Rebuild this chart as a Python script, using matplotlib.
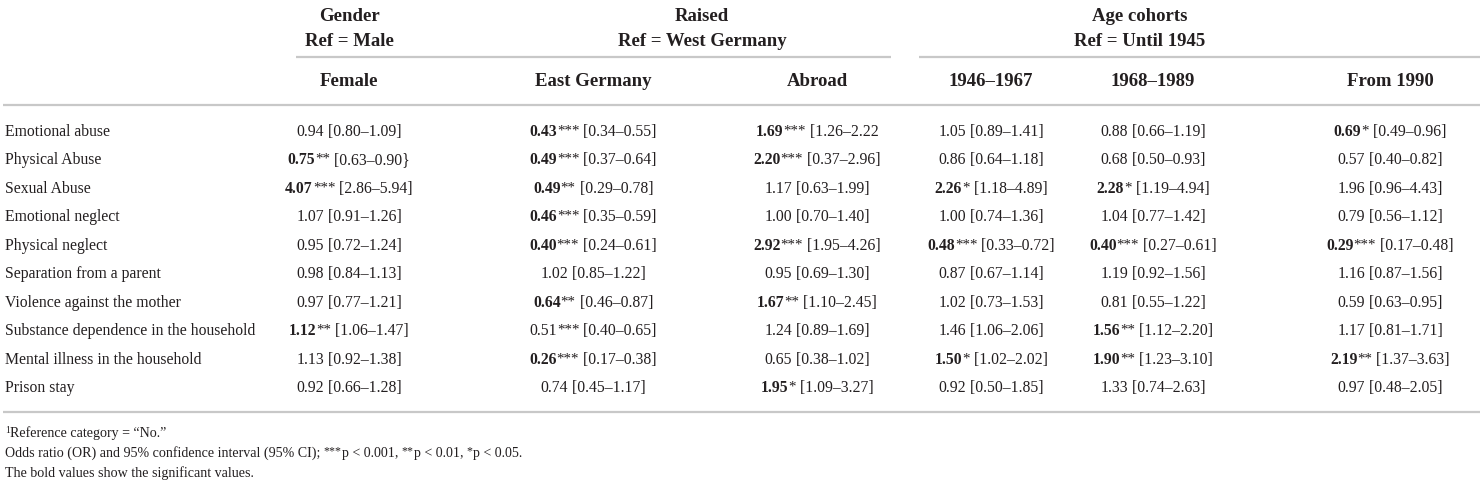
import re
import matplotlib
matplotlib.use("Agg")
import matplotlib.pyplot as plt

plt.rcParams['font.family'] = ['Liberation Serif', 'DejaVu Serif']

rows = ["Emotional abuse", "Physical Abuse", "Sexual Abuse", "Emotional neglect",
        "Physical neglect", "Separation from a parent", "Violence against the mother",
        "Substance dependence in the household", "Mental illness in the household",
        "Prison stay"]

female = ["0.94 [0.80–1.09]", "0.75** [0.63–0.90}", "4.07*** [2.86–5.94]", "1.07 [0.91–1.26]",
          "0.95 [0.72–1.24]", "0.98 [0.84–1.13]", "0.97 [0.77–1.21]", "1.12** [1.06–1.47]",
          "1.13 [0.92–1.38]", "0.92 [0.66–1.28]"]
female_bold = [0, 1, 1, 0, 0, 0, 0, 1, 0, 0]

east = ["0.43*** [0.34–0.55]", "0.49*** [0.37–0.64]", "0.49** [0.29–0.78]", "0.46*** [0.35–0.59]",
        "0.40*** [0.24–0.61]", "1.02 [0.85–1.22]", "0.64** [0.46–0.87]", "0.51*** [0.40–0.65]",
        "0.26*** [0.17–0.38]", "0.74 [0.45–1.17]"]
east_bold = [1, 1, 1, 1, 1, 0, 1, 0, 1, 0]

abroad = ["1.69*** [1.26–2.22", "2.20*** [0.37–2.96]", "1.17 [0.63–1.99]", "1.00 [0.70–1.40]",
          "2.92*** [1.95–4.26]", "0.95 [0.69–1.30]", "1.67** [1.10–2.45]", "1.24 [0.89–1.69]",
          "0.65 [0.38–1.02]", "1.95* [1.09–3.27]"]
abroad_bold = [1, 1, 0, 0, 1, 0, 1, 0, 0, 1]

c1946 = ["1.05 [0.89–1.41]", "0.86 [0.64–1.18]", "2.26* [1.18–4.89]", "1.00 [0.74–1.36]",
         "0.48*** [0.33–0.72]", "0.87 [0.67–1.14]", "1.02 [0.73–1.53]", "1.46 [1.06–2.06]",
         "1.50* [1.02–2.02]", "0.92 [0.50–1.85]"]
c1946_bold = [0, 0, 1, 0, 1, 0, 0, 0, 1, 0]

c1968 = ["0.88 [0.66–1.19]", "0.68 [0.50–0.93]", "2.28* [1.19–4.94]", "1.04 [0.77–1.42]",
         "0.40*** [0.27–0.61]", "1.19 [0.92–1.56]", "0.81 [0.55–1.22]", "1.56** [1.12–2.20]",
         "1.90** [1.23–3.10]", "1.33 [0.74–2.63]"]
c1968_bold = [0, 0, 1, 0, 1, 0, 0, 1, 1, 0]

c1990 = ["0.69* [0.49–0.96]", "0.57 [0.40–0.82]", "1.96 [0.96–4.43]", "0.79 [0.56–1.12]",
         "0.29*** [0.17–0.48]", "1.16 [0.87–1.56]", "0.59 [0.63–0.95]", "1.17 [0.81–1.71]",
         "2.19** [1.37–3.63]", "0.97 [0.48–2.05]"]
c1990_bold = [1, 0, 0, 0, 1, 0, 0, 0, 1, 0]

col_heads = ["Female", "East Germany", "Abroad", "1946–1967", "1968–1989", "From 1990"]
groups = [("Gender", "Ref = Male"), ("Raised", "Ref = West Germany"), ("Age cohorts", "Ref = Until 1945")]
notes = ["Reference category = “No.”",
         "Odds ratio (OR) and 95% confidence interval (95% CI); ***p < 0.001, **p < 0.01, *p < 0.05.",
         "The bold values show the significant values."]

columns = [female, east, abroad, c1946, c1968, c1990]
bolds = [female_bold, east_bold, abroad_bold, c1946_bold, c1968_bold, c1990_bold]

# layout (pixels)
col_x = [349, 593, 817, 991, 1153, 1390]
group_x = [349, 702, 1140]
row_y0, row_dy = 131, 28.5
ink = "#231f20"
rule = "#c8c8c8"
fs_body, fs_head, fs_note = 11.3, 13.5, 10.1

fig = plt.figure(figsize=(14.84, 4.85), dpi=100)
ax = fig.add_axes([0, 0, 1, 1])
ax.set_xlim(0, 1484)
ax.set_ylim(485, 0)
ax.axis("off")
renderer = fig.canvas.get_renderer()


def width(s, **kw):
    t = ax.text(0, 0, s, **kw)
    w = t.get_window_extent(renderer).width
    t.remove()
    return w


def runs_text(x, y, runs, ha="left"):
    # runs: (text, weight, size, raise)
    ws = [width(r[0], fontsize=r[2], fontweight=r[1]) for r in runs]
    total = sum(ws)
    if ha == "center":
        x = x - total / 2
    for (s, wgt, size, dy), w in zip(runs, ws):
        ax.text(x, y - dy, s, fontsize=size, fontweight=wgt, color=ink, va="baseline", ha="left")
        x += w


# group headers
for gx, (g1, g2) in zip(group_x, groups):
    ax.text(gx, 21, g1, fontsize=fs_head, fontweight="bold", color=ink, ha="center", va="baseline")
    ax.text(gx, 46, g2, fontsize=fs_head, fontweight="bold", color=ink, ha="center", va="baseline")
for cx, h in zip(col_x, col_heads):
    ax.text(cx, 86, h, fontsize=fs_head, fontweight="bold", color=ink, ha="center", va="baseline")

# rules
ax.plot([296, 891], [58, 58], color=rule, lw=1.6, solid_capstyle="butt")
ax.plot([919, 1480], [58, 58], color=rule, lw=1.6, solid_capstyle="butt")
ax.plot([3, 1480], [106, 106], color=rule, lw=1.6, solid_capstyle="butt")
ax.plot([3, 1480], [413, 413], color=rule, lw=1.6, solid_capstyle="butt")

# body
for i, name in enumerate(rows):
    yb = row_y0 + i * row_dy + 5
    ax.text(5, yb, name, fontsize=fs_body, color=ink, ha="left", va="baseline")
    for cx, col, bl in zip(col_x, columns, bolds):
        m = re.match(r"([\d.]+)(\**)\s(.*)", col[i])
        val, stars, ci = m.groups()
        runs = [(val, "bold" if bl[i] else "normal", fs_body, 0)]
        if stars:
            runs.append((stars, "normal", fs_body * 0.95, 1.5))
        runs.append((" " + ci, "normal", fs_body, 0))
        runs_text(cx, yb, runs, ha="center")

# footnotes
runs_text(5, 437, [("1", "normal", fs_note * 0.7, 4), (notes[0], "normal", fs_note, 0)])
runs_text(5, 457, [("Odds ratio (OR) and 95% confidence interval (95% CI); ", "normal", fs_note, 0),
                   ("***", "normal", fs_note * 0.85, 3), ("p < 0.001, ", "normal", fs_note, 0),
                   ("**", "normal", fs_note * 0.85, 3), ("p < 0.01, ", "normal", fs_note, 0),
                   ("*", "normal", fs_note * 0.85, 3), ("p < 0.05.", "normal", fs_note, 0)])
runs_text(5, 477, [(notes[2], "normal", fs_note, 0)])

fig.savefig("out.png", dpi=100)
